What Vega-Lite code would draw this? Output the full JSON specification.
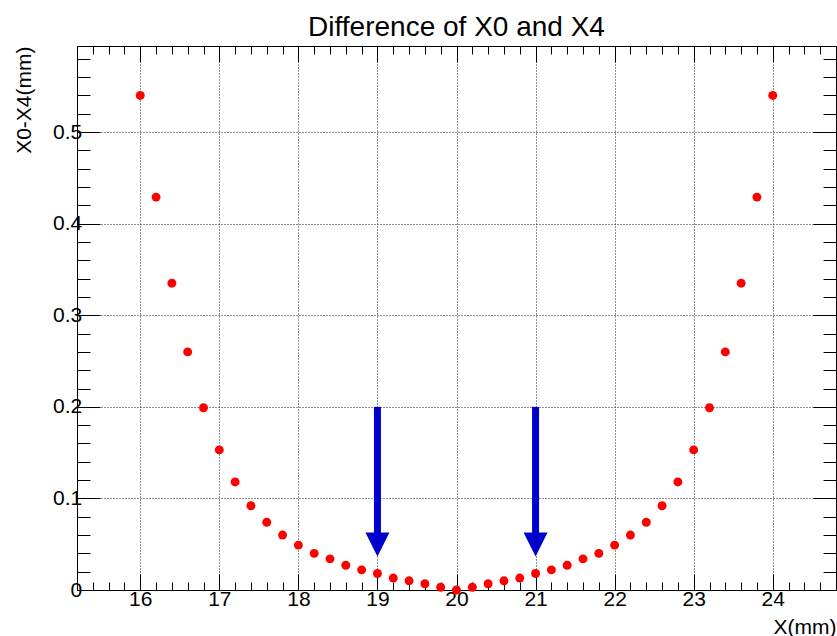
{
  "$schema": "https://vega.github.io/schema/vega-lite/v6.json",
  "autosize": {"type": "none"},
  "width": 759,
  "height": 544,
  "padding": {"left": 77, "top": 46, "right": 1, "bottom": 46},
  "background": "white",
  "config": {
    "font": "Liberation Sans",
    "view": {"stroke": "black", "strokeWidth": 1},
    "axis": {"domainColor": "black", "tickColor": "black", "labelColor": "black", "titleColor": "black", "labelFont": "Liberation Sans", "titleFont": "Liberation Sans", "titleFontWeight": "normal"}
  },
  "title": {"text": "Difference of X0 and X4", "fontSize": 28, "fontWeight": "normal", "font": "Liberation Sans", "anchor": "middle", "baseline": "alphabetic", "offset": 12, "dy": 30, "color": "black"},
  "datasets": {
    "points": [
      {"x": 16.0, "diff": 0.540}, {"x": 16.2, "diff": 0.429}, {"x": 16.4, "diff": 0.335}, {"x": 16.6, "diff": 0.260},
      {"x": 16.8, "diff": 0.199}, {"x": 17.0, "diff": 0.153}, {"x": 17.2, "diff": 0.118}, {"x": 17.4, "diff": 0.092},
      {"x": 17.6, "diff": 0.074}, {"x": 17.8, "diff": 0.060}, {"x": 18.0, "diff": 0.049}, {"x": 18.2, "diff": 0.040},
      {"x": 18.4, "diff": 0.034}, {"x": 18.6, "diff": 0.027}, {"x": 18.8, "diff": 0.022}, {"x": 19.0, "diff": 0.018},
      {"x": 19.2, "diff": 0.013}, {"x": 19.4, "diff": 0.010}, {"x": 19.6, "diff": 0.0068}, {"x": 19.8, "diff": 0.003},
      {"x": 20.0, "diff": 0.0},
      {"x": 20.2, "diff": 0.003}, {"x": 20.4, "diff": 0.0068}, {"x": 20.6, "diff": 0.010}, {"x": 20.8, "diff": 0.013},
      {"x": 21.0, "diff": 0.018}, {"x": 21.2, "diff": 0.022}, {"x": 21.4, "diff": 0.027}, {"x": 21.6, "diff": 0.034},
      {"x": 21.8, "diff": 0.040}, {"x": 22.0, "diff": 0.049}, {"x": 22.2, "diff": 0.060}, {"x": 22.4, "diff": 0.074},
      {"x": 22.6, "diff": 0.092}, {"x": 22.8, "diff": 0.118}, {"x": 23.0, "diff": 0.153}, {"x": 23.2, "diff": 0.199},
      {"x": 23.4, "diff": 0.260}, {"x": 23.6, "diff": 0.335}, {"x": 23.8, "diff": 0.429}, {"x": 24.0, "diff": 0.540}
    ],
    "arrows": [
      {"x": 19, "top": 0.2, "base": 0.062, "tip": 0.0366},
      {"x": 21, "top": 0.2, "base": 0.062, "tip": 0.0366}
    ]
  },
  "layer": [
    {
      "data": {"name": "points"},
      "mark": {"type": "circle", "color": "#ff0000", "opacity": 1, "size": 80},
      "encoding": {
        "x": {
          "field": "x", "type": "quantitative",
          "scale": {"domain": [15.2, 24.8], "nice": false, "zero": false},
          "axis": {
            "orient": "bottom",
            "title": "X(mm)",
            "titleFontSize": 21,
            "titleAnchor": "end",
            "titleAlign": "right",
            "titleBaseline": "alphabetic",
            "titleX": 759,
            "titleY": 43,
            "values": [15.4, 15.6, 15.8, 16, 16.2, 16.4, 16.6, 16.8, 17, 17.2, 17.4, 17.6, 17.8, 18, 18.2, 18.4, 18.6, 18.8, 19, 19.2, 19.4, 19.6, 19.8, 20, 20.2, 20.4, 20.6, 20.8, 21, 21.2, 21.4, 21.6, 21.8, 22, 22.2, 22.4, 22.6, 22.8, 23, 23.2, 23.4, 23.6, 23.8, 24, 24.2, 24.4, 24.6],
            "labelExpr": "abs(datum.value - round(datum.value)) < 0.001 ? format(datum.value, 'd') : ''",
            "labelFontSize": 21,
            "labelBaseline": "top",
            "labelPadding": 14.7,
            "labelFlush": false,
            "labelOverlap": false,
            "tickSize": {"condition": {"test": "abs(datum.value - round(datum.value)) < 0.001", "value": -16}, "value": -8},
            "tickWidth": 1,
            "grid": true,
            "gridColor": "#222222",
            "gridDash": [1, 2],
            "gridWidth": 1,
            "gridOpacity": {"condition": {"test": "abs(datum.value - round(datum.value)) < 0.001", "value": 1}, "value": 0}
          }
        },
        "y": {
          "field": "diff", "type": "quantitative",
          "scale": {"domain": [0, 0.594], "nice": false, "zero": false},
          "axis": {
            "orient": "left",
            "title": "X0-X4(mm)",
            "titleFontSize": 21,
            "titleAnchor": "end",
            "titleAlign": "right",
            "titleAngle": -90,
            "titleBaseline": "middle",
            "titleX": -53,
            "titleY": 0,
            "values": [0, 0.02, 0.04, 0.06, 0.08, 0.1, 0.12, 0.14, 0.16, 0.18, 0.2, 0.22, 0.24, 0.26, 0.28, 0.3, 0.32, 0.34, 0.36, 0.38, 0.4, 0.42, 0.44, 0.46, 0.48, 0.5, 0.52, 0.54, 0.56, 0.58],
            "labelExpr": "abs(datum.value*10 - round(datum.value*10)) < 0.001 ? format(datum.value, '~g') : ''",
            "labelFontSize": 21,
            "labelBaseline": "middle",
            "labelPadding": 18.3,
            "labelFlush": false,
            "labelOverlap": false,
            "tickSize": {"condition": {"test": "abs(datum.value*10 - round(datum.value*10)) < 0.001", "value": -23}, "value": -13},
            "tickWidth": 1,
            "grid": true,
            "gridColor": "#222222",
            "gridDash": [1, 2],
            "gridWidth": 1,
            "gridOpacity": {"condition": {"test": "abs(datum.value*10 - round(datum.value*10)) < 0.001 && datum.value > 0.001", "value": 1}, "value": 0}
          }
        }
      }
    },
    {
      "data": {"name": "arrows"},
      "mark": {"type": "rule", "color": "#0000cc", "strokeWidth": 7, "strokeCap": "butt"},
      "encoding": {
        "x": {
          "field": "x", "type": "quantitative",
          "scale": {"domain": [15.2, 24.8], "nice": false, "zero": false},
          "axis": {
            "orient": "top",
            "title": null,
            "labels": false,
            "grid": false,
            "values": [15.4, 15.6, 15.8, 16, 16.2, 16.4, 16.6, 16.8, 17, 17.2, 17.4, 17.6, 17.8, 18, 18.2, 18.4, 18.6, 18.8, 19, 19.2, 19.4, 19.6, 19.8, 20, 20.2, 20.4, 20.6, 20.8, 21, 21.2, 21.4, 21.6, 21.8, 22, 22.2, 22.4, 22.6, 22.8, 23, 23.2, 23.4, 23.6, 23.8, 24, 24.2, 24.4, 24.6],
            "tickSize": {"condition": {"test": "abs(datum.value - round(datum.value)) < 0.001", "value": -16}, "value": -8},
            "tickWidth": 1
          }
        },
        "y": {
          "field": "top", "type": "quantitative",
          "scale": {"domain": [0, 0.594], "nice": false, "zero": false},
          "axis": {
            "orient": "right",
            "title": null,
            "labels": false,
            "grid": false,
            "values": [0.02, 0.04, 0.06, 0.08, 0.1, 0.12, 0.14, 0.16, 0.18, 0.2, 0.22, 0.24, 0.26, 0.28, 0.3, 0.32, 0.34, 0.36, 0.38, 0.4, 0.42, 0.44, 0.46, 0.48, 0.5, 0.52, 0.54, 0.56, 0.58],
            "tickSize": {"condition": {"test": "abs(datum.value*10 - round(datum.value*10)) < 0.001", "value": -23}, "value": -13},
            "tickWidth": 1
          }
        },
        "y2": {"field": "base"}
      }
    },
    {
      "data": {"name": "arrows"},
      "mark": {"type": "point", "shape": "M -1 -2 L 1 -2 L 0 0 Z", "filled": true, "color": "#0000cc", "opacity": 1, "size": 576},
      "encoding": {
        "x": {"field": "x", "type": "quantitative", "scale": {"domain": [15.2, 24.8], "nice": false, "zero": false}, "axis": null},
        "y": {"field": "tip", "type": "quantitative", "scale": {"domain": [0, 0.594], "nice": false, "zero": false}, "axis": null}
      }
    }
  ],
  "resolve": {"axis": {"x": "independent", "y": "independent"}}
}
